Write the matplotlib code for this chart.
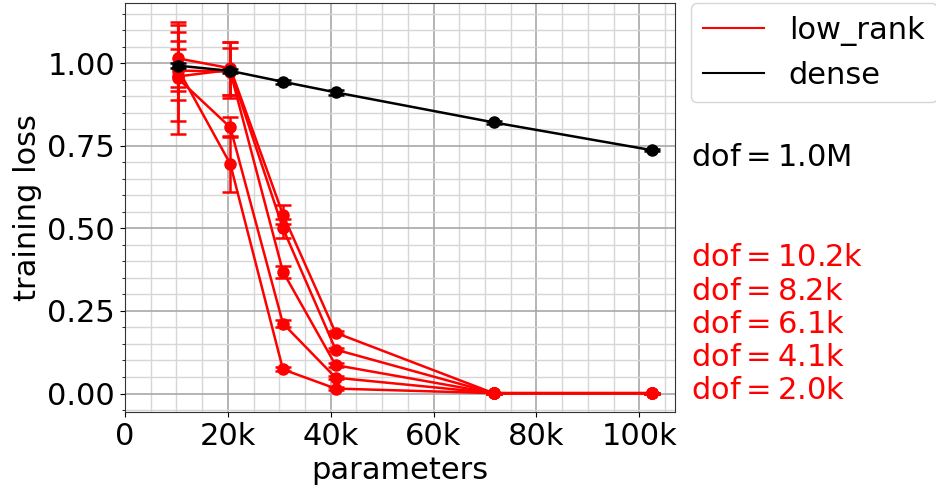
import numpy as np
import matplotlib
matplotlib.use('Agg')
import matplotlib.pyplot as plt
from matplotlib.lines import Line2D
from matplotlib.ticker import AutoMinorLocator, FuncFormatter, MultipleLocator

# number of trainable parameters (x axis)
params = [10240, 20480, 30720, 40960, 71680, 102400]

# dense model
dense_loss = [0.993, 0.977, 0.944, 0.912, 0.821, 0.737]
dense_err = [0.008, 0.006, 0.006, 0.007, 0.005, 0.004]

# low rank models, one row per dof
dof_labels = ['10.2k', '8.2k', '6.1k', '4.1k', '2.0k']
dense_dof = '1.0M'
low_rank_loss = [
    [0.985, 0.695, 0.073, 0.015, 0.001, 0.001],   # 10.2k
    [0.955, 0.806, 0.212, 0.048, 0.001, 0.001],   # 8.2k
    [0.978, 0.975, 0.369, 0.086, 0.001, 0.001],   # 6.1k
    [0.960, 0.980, 0.500, 0.133, 0.001, 0.001],   # 4.1k
    [1.015, 0.985, 0.542, 0.184, 0.001, 0.001],   # 2.0k
]
low_rank_err = [
    [0.058, 0.085, 0.006, 0.004, 0.001, 0.001],
    [0.170, 0.030, 0.010, 0.005, 0.001, 0.001],
    [0.090, 0.070, 0.018, 0.006, 0.001, 0.001],
    [0.134, 0.085, 0.028, 0.005, 0.001, 0.001],
    [0.100, 0.080, 0.030, 0.005, 0.001, 0.001],
]

fs = 22
fig = plt.figure(figsize=(9.36, 4.9), dpi=100)
ax = fig.add_axes([0.1335, 0.159, 0.588, 0.834])

for y, e in zip(low_rank_loss, low_rank_err):
    ax.errorbar(params, y, yerr=e, color='red', marker='o', markersize=8,
                linewidth=1.8, capsize=6, capthick=1.8, zorder=3)
ax.errorbar(params, dense_loss, yerr=dense_err, color='black', marker='o', markersize=8,
            linewidth=1.8, capsize=6, capthick=1.8, zorder=4)

ax.set_xlim(left=0)
ax.xaxis.set_major_locator(MultipleLocator(20000))
ax.xaxis.set_minor_locator(AutoMinorLocator(4))
ax.yaxis.set_major_locator(MultipleLocator(0.25))
ax.yaxis.set_minor_locator(AutoMinorLocator(5))
ax.xaxis.set_major_formatter(FuncFormatter(lambda v, p: '0' if v == 0 else '%dk' % round(v / 1000)))
ax.grid(which='major', color='#a8a8a8', linewidth=1.2)
ax.grid(which='minor', color='#d6d6d6', linewidth=1.0)
ax.set_axisbelow(True)
ax.tick_params(labelsize=fs)
ax.tick_params(axis='x', which='minor', length=0)
for s in ax.spines.values():
    s.set_color('#333333')
ax.set_xlabel('parameters', fontsize=fs, labelpad=4)
ax.set_ylabel('training loss', fontsize=fs, labelpad=4)

handles = [Line2D([], [], color='red'), Line2D([], [], color='black')]
ax.legend(handles, ['low_rank', 'dense'], loc='upper left', bbox_to_anchor=(1.0285, 1.0),
          borderaxespad=0, fontsize=fs)

fig.text(0.738, 1 - 158 / 490, r'$\mathrm{dof} = %s$' % dense_dof.replace('M', r'\mathrm{M}'),
         color='black', fontsize=fs, va='center')
for i, d in enumerate(dof_labels):
    fig.text(0.738, 1 - (258 + 33 * i) / 490, r'$\mathrm{dof} = %s$' % d.replace('k', r'\mathrm{k}'),
             color='red', fontsize=fs, va='center')

fig.savefig('out.png', dpi=100)
